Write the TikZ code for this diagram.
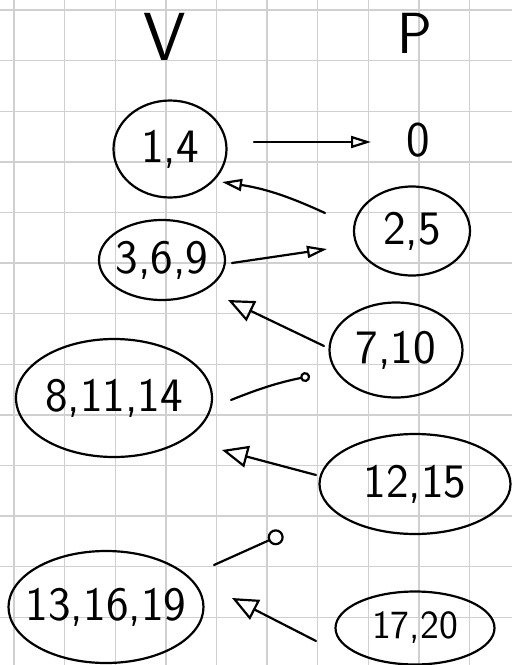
\documentclass[tikz,border=0pt]{standalone}
\usetikzlibrary{shapes.geometric,arrows.meta,calc}
\definecolor{gridgray}{HTML}{D0D0D0}
\begin{document}
\begin{tikzpicture}[x=1pt,y=-1pt,
  gridline/.style={gridgray,line width=1.4pt},
  lbl/.style={font=\fontsize{50}{50}\selectfont\sffamily,inner sep=0pt},
  oval/.style={ellipse,draw,line width=2.2pt,inner sep=0pt,font=\fontsize{48}{48}\selectfont\sffamily},
  arr/.style={line width=2.2pt,line cap=round,-{Triangle[open,length=26pt,width=22pt,line width=2.2pt]}},
  arrs/.style={line width=2.2pt,line cap=round,-{Triangle[open,length=20pt,width=12pt,line width=2.2pt]}},
  arrc/.style={line width=2.2pt,line cap=round,-{Circle[open,length=10pt,line width=2.2pt]}}]
\useasboundingbox (0,0) rectangle (512,665);
\fill[white] (0,0) rectangle (512,665);
\foreach \i in {0,...,9} \draw[gridline] ({14+50.6*\i},0) -- ({14+50.6*\i},665);
\foreach \j in {0,...,12} \draw[gridline] (0,{10+50.6*\j}) -- (512,{10+50.6*\j});

\node[lbl,font=\fontsize{68}{68}\selectfont\sffamily] (V) at (165,37) {V};
\node[lbl,font=\fontsize{58}{58}\selectfont\sffamily] (P) at (415,33) {P};

\node[oval,minimum width=113pt,minimum height=97pt] (n14) at (170,149) {\makebox[0pt]{1,4}};
\node[lbl] (p0) at (418,140) {0};
\node[oval,minimum width=116pt,minimum height=89pt] (n25) at (412,231) {\makebox[0pt]{2,5}};
\node[oval,minimum width=126pt,minimum height=80pt] (n369) at (162,260) {\makebox[0pt]{3,6,9}};
\node[oval,minimum width=133pt,minimum height=95pt] (n710) at (396,350) {\makebox[0pt]{7,10}};
\node[oval,minimum width=196pt,minimum height=118pt] (n81114) at (114,398) {\makebox[0pt]{8,11,14}};
\node[oval,minimum width=191pt,minimum height=100pt] (n1215) at (415,484) {\makebox[0pt]{12,15}};
\node[oval,minimum width=195pt,minimum height=112pt] (n131619) at (106,607) {\makebox[0pt]{13,16,19}};
\node[oval,minimum width=159pt,minimum height=73pt,font=\fontsize{40}{40}\selectfont\sffamily] (n1720) at (415,628) {\makebox[0pt]{17,20}};
\coordinate (free) at (283,534);

\draw[arrs] ($(n14.center)+(84,-7)$) -- ($(p0.center)+(-47,2)$);
\draw[arrs] ($(n25.center)+(-87,-18)$) to[bend right=8] ($(n14.center)+(52,33)$);
\draw[arrs] ($(n369.center)+(70,3)$) -- ($(n25.center)+(-85,18)$);
\draw[arr] ($(n710.center)+(-72,-4)$) -- ($(n369.center)+(66,40)$);
\draw[arrc] ($(n81114.center)+(117,2)$) to[bend left=5] ($(n710.center)+(-86,26)$);
\draw[arr] ($(n1215.center)+(-99,-9)$) -- ($(n81114.center)+(108,52)$);
\draw[arrc,-{Circle[open,length=16pt,line width=2.2pt]}] ($(n131619.center)+(108,-42)$) -- (free);
\draw[arr] ($(n1720.center)+(-99,13)$) -- ($(n131619.center)+(126,-9)$);
\end{tikzpicture}
\end{document}
